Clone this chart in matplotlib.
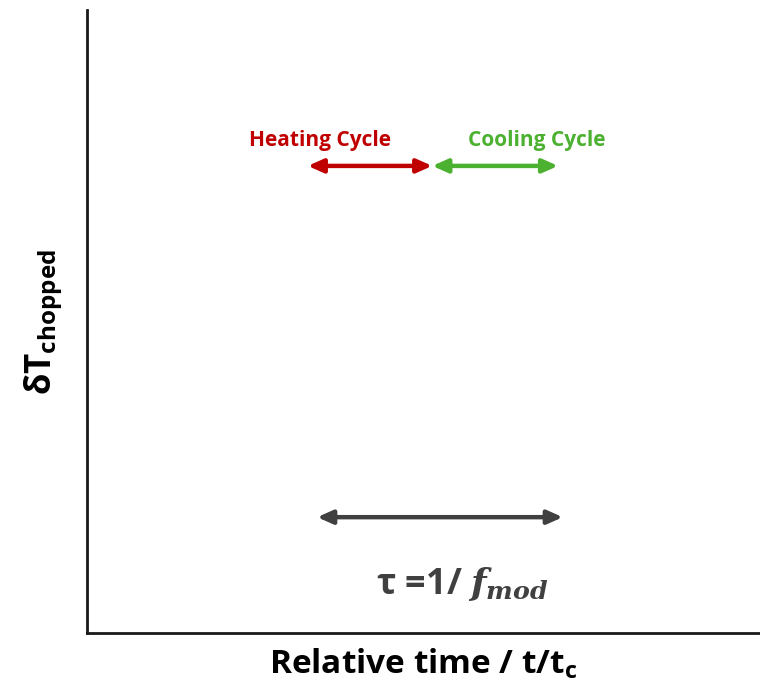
import matplotlib.pyplot as plt

plt.rcParams['font.family'] = ['Open Sans', 'DejaVu Sans']
plt.rcParams['mathtext.fontset'] = 'custom'
plt.rcParams['mathtext.rm'] = 'Open Sans'
plt.rcParams['mathtext.bf'] = 'Open Sans:bold'
plt.rcParams['mathtext.it'] = 'DejaVu Serif:italic:bold'

# arrow spans (relative axis units) and labels
cycle_names = ['Heating Cycle', 'Cooling Cycle']
cycle_start = [0.328, 0.513]
cycle_end = [0.513, 0.700]
cycle_y = 0.750
cycle_label_x = [0.346, 0.669]
cycle_label_y = 0.791
cycle_colors = ['#c00000', '#4cb131']

period_start = 0.342
period_end = 0.707
period_y = 0.186
period_label_x = 0.557
period_label_y = 0.078
period_label = r'$\mathbf{\tau}$ =1/ $f_{mod}$'

fig = plt.figure(figsize=(7.6, 6.99), dpi=100)
ax = fig.add_axes([0.1145, 0.0944, 0.8855, 0.891])
ax.set_xlim(0, 1)
ax.set_ylim(0, 1)

for name, x0, x1, lx, c in zip(cycle_names, cycle_start, cycle_end, cycle_label_x, cycle_colors):
    ax.annotate('', xy=(x1, cycle_y), xytext=(x0, cycle_y),
                arrowprops=dict(arrowstyle='<|-|>,head_length=0.9,head_width=0.4',
                                color=c, lw=3.2, shrinkA=0, shrinkB=0))
    ax.text(lx, cycle_label_y, name, color=c, fontsize=15, fontweight='bold',
            ha='center', va='center')

ax.annotate('', xy=(period_end, period_y), xytext=(period_start, period_y),
            arrowprops=dict(arrowstyle='<|-|>,head_length=0.9,head_width=0.4',
                            color='#404040', lw=3.2, shrinkA=0, shrinkB=0))
ax.text(period_label_x, period_label_y, period_label, color='#404040', fontsize=26,
        fontweight='bold', ha='center', va='center')

for s in ['top', 'right']:
    ax.spines[s].set_visible(False)
for s in ['left', 'bottom']:
    ax.spines[s].set_linewidth(2)
    ax.spines[s].set_color('#1a1a1a')
ax.set_xticks([])
ax.set_yticks([])

ax.set_xlabel(r'Relative time / t/t$_{\mathbf{c}}$', fontsize=24, fontweight='bold', labelpad=10)
ax.set_ylabel(r'δT$_{\mathbf{chopped}}$', fontsize=25, fontweight='bold', labelpad=16)

fig.savefig('out.png', dpi=100)
